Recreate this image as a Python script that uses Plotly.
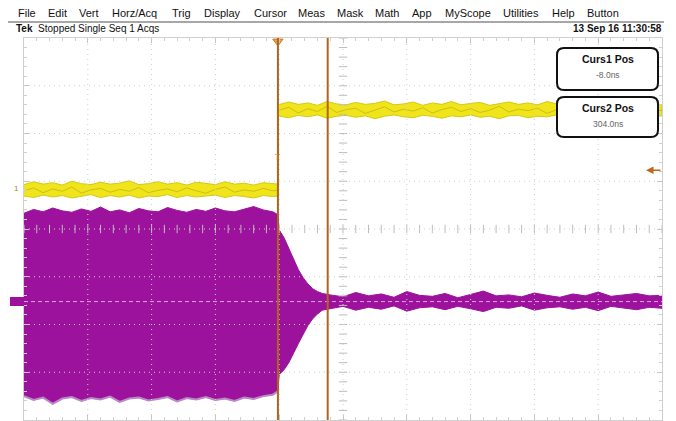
import plotly.graph_objects as go

# page body has an 8px margin: size the figure so the plot lands where the reference has it
OFF = 8
SCREEN_W, SCREEN_H = 676, 421
W, H = SCREEN_W - OFF, SCREEN_H - OFF
PL, PR, PT, PB = 24, 662, 38, 420   # plot area in screen pixels

# ---------------- data ----------------
x_range = [-1600, 2400]          # ns (400 ns/div)
y_range = [-4, 4]                # divisions
x_grid = [-1200, -800, -400, 0, 400, 800, 1200, 1600, 2000]
y_grid = [-3, -2, -1, 0, 1, 2, 3]
x_center = 400
y_center = 0

cursor_times = [-8.0, 304.0]
cursor_titles = ["Curs1 Pos", "Curs2 Pos"]
cursor_values = ["-8.0ns", "304.0ns"]

# Channel 1 (yellow) noise band
yel_pre_t = [-1600, -1540, -1480, -1420, -1360, -1300, -1240, -1180, -1120, -1060, -1000, -940, -880, -820,
             -760, -700, -640, -580, -520, -460, -400, -340, -280, -220, -160, -100, -40, -8]
yel_pre_hi = [0.93, 0.99, 0.94, 0.97, 0.92, 1.00, 0.95, 0.93, 0.98, 0.94, 0.96, 1.01, 0.93, 0.95,
              0.99, 0.94, 0.97, 0.92, 0.98, 0.95, 0.93, 0.99, 0.94, 0.96, 0.92, 0.97, 0.95, 0.94]
yel_pre_mid = [0.80, 0.86, 0.76, 0.84, 0.79, 0.88, 0.75, 0.82, 0.85, 0.77, 0.83, 0.79, 0.87, 0.76,
               0.81, 0.84, 0.78, 0.86, 0.80, 0.75, 0.83, 0.88, 0.77, 0.82, 0.79, 0.85, 0.80, 0.81]
yel_pre_lo = [0.69, 0.66, 0.71, 0.67, 0.70, 0.65, 0.69, 0.72, 0.66, 0.70, 0.67, 0.71, 0.65, 0.69,
              0.68, 0.72, 0.66, 0.70, 0.67, 0.69, 0.71, 0.66, 0.70, 0.68, 0.65, 0.70, 0.68, 0.69]
yel_post_t = [-8, 60, 120, 180, 240, 300, 360, 420, 480, 540, 600, 660, 720, 780, 840, 900, 960, 1020,
              1080, 1140, 1200, 1260, 1320, 1380, 1440, 1500, 1560, 1620, 1680, 1740, 1800, 1860, 1920,
              1980, 2040, 2100, 2160, 2220, 2280, 2340, 2400]
yel_post_hi = [2.60, 2.66, 2.61, 2.64, 2.59, 2.67, 2.62, 2.60, 2.65, 2.61, 2.63, 2.68, 2.60, 2.62,
               2.66, 2.59, 2.64, 2.61, 2.67, 2.60, 2.63, 2.65, 2.59, 2.62, 2.66, 2.61, 2.64, 2.60,
               2.67, 2.62, 2.59, 2.65, 2.61, 2.63, 2.68, 2.60, 2.62, 2.66, 2.61, 2.64, 2.60]
yel_post_mid = [2.48, 2.55, 2.43, 2.52, 2.46, 2.57, 2.44, 2.50, 2.53, 2.42, 2.49, 2.56, 2.45, 2.51,
                2.47, 2.54, 2.43, 2.50, 2.55, 2.46, 2.52, 2.44, 2.49, 2.57, 2.45, 2.51, 2.48, 2.53,
                2.42, 2.50, 2.55, 2.47, 2.52, 2.44, 2.49, 2.56, 2.46, 2.51, 2.43, 2.50, 2.48]
yel_post_lo = [2.37, 2.33, 2.38, 2.35, 2.39, 2.32, 2.36, 2.38, 2.34, 2.37, 2.31, 2.36, 2.39, 2.35,
               2.33, 2.38, 2.36, 2.32, 2.37, 2.35, 2.39, 2.34, 2.36, 2.31, 2.37, 2.38, 2.33, 2.36,
               2.35, 2.39, 2.32, 2.37, 2.34, 2.36, 2.38, 2.33, 2.37, 2.35, 2.31, 2.36, 2.37]

# Magenta channel envelope
mag_pre_t = yel_pre_t
mag_pre_top = [0.33, 0.41, 0.36, 0.44, 0.38, 0.35, 0.42, 0.37, 0.46, 0.36, 0.40, 0.34, 0.43, 0.38,
               0.36, 0.45, 0.39, 0.35, 0.41, 0.37, 0.44, 0.38, 0.36, 0.42, 0.47, 0.40, 0.36, 0.30]
mag_pre_bot = [-3.50, -3.58, -3.53, -3.66, -3.55, -3.52, -3.60, -3.54, -3.57, -3.51, -3.62, -3.55, -3.53, -3.59,
               -3.56, -3.52, -3.61, -3.54, -3.57, -3.52, -3.58, -3.55, -3.60, -3.53, -3.56, -3.50, -3.47, -3.40]
mag_dec_t = [0, 30, 60, 90, 120, 150, 180, 210, 240, 270, 300]
mag_dec_top = [-0.02, -0.18, -0.40, -0.62, -0.85, -1.02, -1.15, -1.25, -1.31, -1.35, -1.37]
mag_dec_bot = [-3.05, -2.95, -2.80, -2.60, -2.40, -2.20, -2.02, -1.88, -1.78, -1.70, -1.67]
mag_post_t = [320, 400, 480, 560, 640, 720, 800, 880, 960, 1040, 1120, 1200, 1280, 1360, 1440, 1520,
              1600, 1680, 1760, 1840, 1920, 2000, 2080, 2160, 2240, 2320, 2400]
mag_post_top = [-1.38, -1.42, -1.33, -1.40, -1.36, -1.43, -1.31, -1.39, -1.41, -1.35, -1.44, -1.37, -1.30, -1.40,
                -1.38, -1.42, -1.34, -1.39, -1.43, -1.36, -1.40, -1.32, -1.41, -1.38, -1.35, -1.40, -1.39]
mag_post_bot = [-1.66, -1.62, -1.70, -1.64, -1.68, -1.61, -1.72, -1.65, -1.63, -1.69, -1.62, -1.67, -1.73, -1.64,
                -1.66, -1.61, -1.70, -1.65, -1.63, -1.68, -1.64, -1.71, -1.62, -1.66, -1.69, -1.64, -1.66]
mag_ref_level = -1.52
ch1_trig_level = 1.23
ch1_level_label = 0.84

menu_items = ["File", "Edit", "Vert", "Horz/Acq", "Trig", "Display", "Cursor", "Meas", "Mask", "Math",
              "App", "MyScope", "Utilities", "Help", "Button"]
menu_x = [16, 46, 77, 110, 170, 202, 252, 296, 335, 373, 410, 443, 501, 550, 585]
status_text = "Tek"
status_rest = "Stopped Single Seq 1 Acqs"
date_text = "13 Sep 16 11:30:58"

# ---------------- helpers (screen px -> paper) ----------------
def X(x):
    return (x - PL) / (PR - PL)

def Y(y):
    return (PB - y) / (PB - PT)

def rrect(x0, y0, x1, y1, r):
    return (f"M {X(x0+r)},{Y(y0)} L {X(x1-r)},{Y(y0)} Q {X(x1)},{Y(y0)} {X(x1)},{Y(y0+r)} "
            f"L {X(x1)},{Y(y1-r)} Q {X(x1)},{Y(y1)} {X(x1-r)},{Y(y1)} L {X(x0+r)},{Y(y1)} "
            f"Q {X(x0)},{Y(y1)} {X(x0)},{Y(y1-r)} L {X(x0)},{Y(y0+r)} Q {X(x0)},{Y(y0)} {X(x0+r)},{Y(y0)} Z")

YEL = "#f0e41a"
YEL_EDGE = "#d8c812"
YEL_DARK = "#8c7d12"
MAG = "#9d129d"
MAG_TIP = "#b88bc4"
CUR = "#b0641c"
GRID = "#cfcfcf"

fig = go.Figure()

# magenta envelope
mt = mag_pre_t + mag_dec_t + mag_post_t
mtop = mag_pre_top + mag_dec_top + mag_post_top
mbot = mag_pre_bot + mag_dec_bot + mag_post_bot
fig.add_trace(go.Scatter(x=mt + mt[::-1], y=mtop + mbot[::-1], fill="toself", fillcolor=MAG,
                         mode="lines", line=dict(color=MAG, width=1), hoverinfo="skip", showlegend=False))
fig.add_trace(go.Scatter(x=mag_pre_t, y=mag_pre_bot, mode="lines", line=dict(color=MAG_TIP, width=2),
                         hoverinfo="skip", showlegend=False))

# yellow band
yt = yel_pre_t + yel_post_t
yhi = yel_pre_hi + yel_post_hi
ylo = yel_pre_lo + yel_post_lo
ymid = yel_pre_mid + yel_post_mid
fig.add_trace(go.Scatter(x=yt + yt[::-1], y=yhi + ylo[::-1], fill="toself", fillcolor=YEL,
                         mode="lines", line=dict(color=YEL_EDGE, width=1), hoverinfo="skip", showlegend=False))
fig.add_trace(go.Scatter(x=yt, y=ymid, mode="lines", line=dict(color=YEL_DARK, width=1), opacity=0.35,
                         hoverinfo="skip", showlegend=False))

# center-line tick marks
minor_x = list(range(x_range[0], x_range[1] + 1, 80))
minor_y = [round(-4 + 0.2 * i, 2) for i in range(41)]
fig.add_trace(go.Scatter(x=minor_x, y=[y_center] * len(minor_x), mode="markers",
                         marker=dict(symbol="line-ns", size=6, line=dict(color="#bdbdbd", width=1)),
                         hoverinfo="skip", showlegend=False))
fig.add_trace(go.Scatter(x=[x_center] * len(minor_y), y=minor_y, mode="markers",
                         marker=dict(symbol="line-ew", size=6, line=dict(color="#bdbdbd", width=1)),
                         hoverinfo="skip", showlegend=False))

# trigger position marker
fig.add_trace(go.Scatter(x=[cursor_times[0]], y=[3.93], mode="markers", cliponaxis=False,
                         marker=dict(symbol="triangle-down", size=9, color="#f0a040",
                                     line=dict(color="#d07820", width=1)),
                         hoverinfo="skip", showlegend=False))

shapes = []
for gx in x_grid:
    shapes.append(dict(type="line", xref="x", yref="y", x0=gx, x1=gx, y0=y_range[0], y1=y_range[1],
                       line=dict(color=GRID, width=1, dash="1px,4px"), layer="above"))
for gy in y_grid:
    shapes.append(dict(type="line", xref="x", yref="y", x0=x_range[0], x1=x_range[1], y0=gy, y1=gy,
                       line=dict(color=GRID, width=1, dash="1px,4px"), layer="above"))
# magenta reference line
shapes.append(dict(type="line", xref="x", yref="y", x0=x_range[0], x1=x_range[1], y0=mag_ref_level,
                   y1=mag_ref_level, line=dict(color="#d9a6d9", width=1, dash="4px,3px"), layer="above"))
# cursors
for ct in cursor_times:
    shapes.append(dict(type="line", xref="x", yref="y", x0=ct, x1=ct, y0=y_range[0], y1=y_range[1],
                       line=dict(color=CUR, width=2), layer="above"))
# cursor readout boxes
box_rows = [(557, 48, 658, 90), (557, 97, 658, 137)]
for (x0, y0, x1, y1) in box_rows:
    shapes.append(dict(type="path", xref="paper", yref="paper", path=rrect(x0, y0, x1, y1, 7),
                       fillcolor="white", line=dict(color="#111111", width=2), layer="above"))
# menu separator
shapes.append(dict(type="line", xref="paper", yref="paper", x0=X(8), x1=X(664), y0=Y(22), y1=Y(22),
                   line=dict(color="#8a8a8a", width=1.5)))
# magenta ground marker on left
shapes.append(dict(type="rect", xref="paper", yref="paper", x0=X(10), x1=X(24), y0=Y(306), y1=Y(297),
                   fillcolor=MAG, line=dict(width=0)))

ann = []
for name, mx in zip(menu_items, menu_x):
    ann.append(dict(xref="paper", yref="paper", x=X(mx), y=Y(13), text=name, showarrow=False,
                    xanchor="left", yanchor="middle",
                    font=dict(family="Liberation Sans", size=11, color="#111111")))
ann.append(dict(xref="paper", yref="paper", x=X(14), y=Y(29), text=f"<b>{status_text}</b>  {status_rest}",
                showarrow=False, xanchor="left", yanchor="middle",
                font=dict(family="Liberation Sans", size=10, color="#111111")))
ann.append(dict(xref="paper", yref="paper", x=X(664), y=Y(29), text=f"<b>{date_text}</b>",
                showarrow=False, xanchor="right", yanchor="middle",
                font=dict(family="Liberation Sans", size=10, color="#111111")))
for (x0, y0, x1, y1), t, v in zip(box_rows, cursor_titles, cursor_values):
    cx = (x0 + x1) / 2
    ann.append(dict(xref="paper", yref="paper", x=X(cx), y=Y(y0 + 11), text=f"<b>{t}</b>", showarrow=False,
                    xanchor="center", yanchor="middle",
                    font=dict(family="Liberation Sans", size=10.5, color="#111111")))
    ann.append(dict(xref="paper", yref="paper", x=X(cx), y=Y(y0 + 27), text=v, showarrow=False,
                    xanchor="center", yanchor="middle",
                    font=dict(family="Liberation Sans", size=8.5, color="#666666")))
# channel 1 label
ann.append(dict(xref="paper", yref="y", x=X(16), y=ch1_level_label, text="1", showarrow=False,
                xanchor="center", yanchor="middle",
                font=dict(family="Liberation Sans", size=8, color="#9a9020")))
# trigger level arrow on right
ann.append(dict(xref="paper", yref="y", x=X(646), y=ch1_trig_level, text="", showarrow=True,
                ax=16, ay=0, arrowhead=2, arrowsize=1, arrowwidth=1.5, arrowcolor="#c0661e"))
# small T at cursor
ann.append(dict(xref="x", yref="paper", x=cursor_times[0], y=Y(157), text="T", showarrow=False,
                xanchor="center", yanchor="middle",
                font=dict(family="Liberation Serif", size=8, color="#c87a20")))

fig.update_layout(
    width=W, height=H,
    margin=dict(l=PL - OFF, r=SCREEN_W - PR, t=PT - OFF, b=SCREEN_H - PB),
    paper_bgcolor="white", plot_bgcolor="white",
    shapes=shapes, annotations=ann, showlegend=False,
    xaxis=dict(range=x_range, showgrid=False, zeroline=False, showticklabels=False,
               showline=True, linecolor="#d0d0d0", linewidth=1, mirror="ticks",
               ticks="inside", ticklen=5, tickcolor="#c4c4c4", tickvals=x_grid,
               minor=dict(dtick=80, tick0=-1600, ticks="inside", ticklen=3, tickcolor="#d0d0d0"),
               layer="above traces"),
    yaxis=dict(range=y_range, showgrid=False, zeroline=False, showticklabels=False,
               showline=True, linecolor="#d0d0d0", linewidth=1, mirror="ticks",
               ticks="inside", ticklen=5, tickcolor="#c4c4c4", tickvals=y_grid,
               minor=dict(dtick=0.2, tick0=-4, ticks="inside", ticklen=3, tickcolor="#d0d0d0"),
               layer="above traces"),
)

fig.write_html("out.html")
